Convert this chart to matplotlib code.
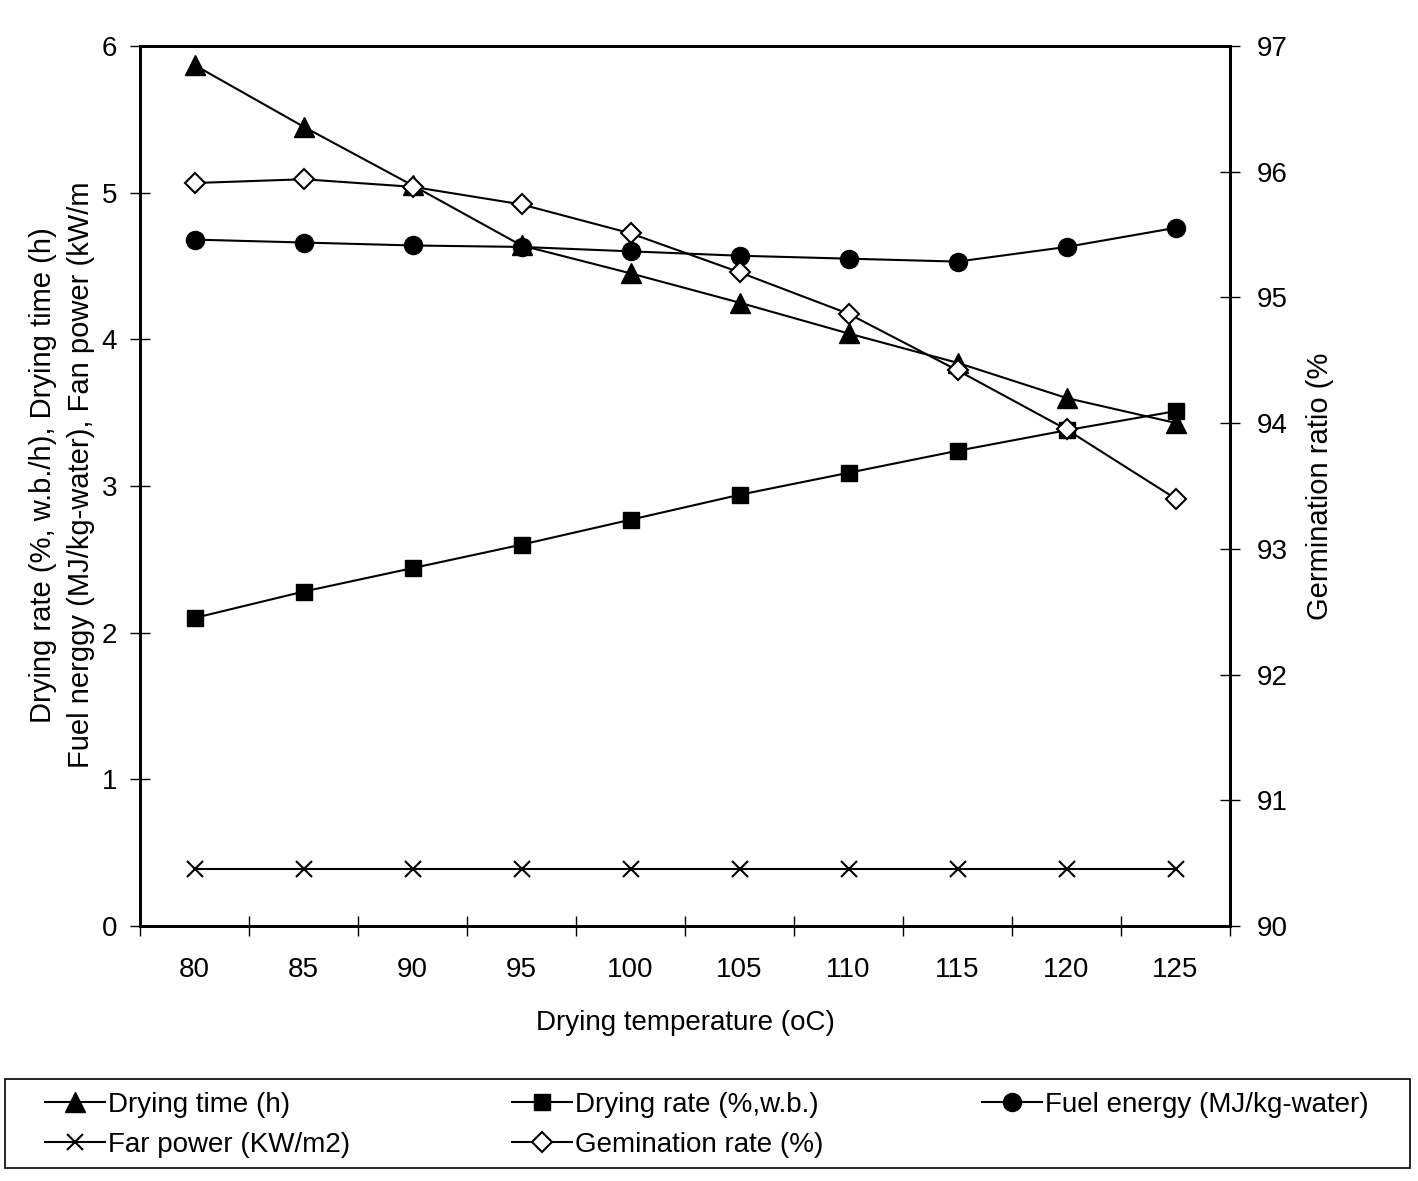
import matplotlib
matplotlib.use("Agg")
import matplotlib.pyplot as plt
from matplotlib.patches import Rectangle

plt.rcParams['font.family'] = ['Liberation Sans', 'DejaVu Sans']
FS = 20
LFS = 21

temps = ["80", "85", "90", "95", "100", "105", "110", "115", "120", "125"]
drying_time = [5.87, 5.45, 5.05, 4.64, 4.45, 4.25, 4.04, 3.84, 3.60, 3.43]
drying_rate = [2.10, 2.28, 2.44, 2.60, 2.77, 2.94, 3.09, 3.24, 3.38, 3.51]
fuel_energy = [4.68, 4.66, 4.64, 4.63, 4.60, 4.57, 4.55, 4.53, 4.63, 4.76]
fan_power = [0.39, 0.39, 0.39, 0.39, 0.39, 0.39, 0.39, 0.39, 0.39, 0.39]
germination = [95.91, 95.94, 95.88, 95.74, 95.51, 95.20, 94.87, 94.42, 93.95, 93.40]

fig = plt.figure(figsize=(14.18, 11.81), dpi=100)
ax = fig.add_axes([140/1418, 1 - 926/1181, 1090/1418, 880/1181])
ax2 = ax.twinx()

x = list(range(len(temps)))
lw = 1.5
h1, = ax.plot(x, drying_time, color='black', lw=lw, marker='^', ms=14, label='Drying time (h)')
h2, = ax.plot(x, drying_rate, color='black', lw=lw, marker='s', ms=11, label='Drying rate (%,w.b.)')
h3, = ax.plot(x, fuel_energy, color='black', lw=lw, marker='o', ms=13, label='Fuel energy (MJ/kg-water)')
h4, = ax.plot(x, fan_power, color='black', lw=lw, marker='x', ms=11, mew=1.5, label='Far power (KW/m2)')
h5, = ax2.plot(x, germination, color='black', lw=lw, marker='D', ms=10, mfc='white', mew=1.5,
               label='Gemination rate (%)')

ax.set_xlim(-0.5, len(temps) - 0.5)
ax.set_ylim(0, 6)
ax2.set_ylim(90, 97)
ax.set_yticks(range(0, 7))
ax2.set_yticks(range(90, 98))
ax.set_xticks(x)
ax.set_xticklabels(temps)
ax.set_xticks([i - 0.5 for i in range(len(temps) + 1)], minor=True)
ax.tick_params(axis='x', which='major', length=0, pad=22, labelsize=FS)
ax.tick_params(axis='x', which='minor', length=14, width=1, direction='inout')
ax.tick_params(axis='y', length=14, width=1, direction='inout', pad=9.5, labelsize=FS)
ax2.tick_params(axis='y', length=14, width=1, direction='inout', pad=12.5, labelsize=FS)
for a in (ax, ax2):
    for s in a.spines.values():
        s.set_linewidth(2)
        s.set_color('black')

ax.set_xlabel('Drying temperature (oC)', fontsize=FS, labelpad=20)
fig.text(62/1418, 1 - 475/1181,
         'Drying rate (%, w.b./h), Drying time (h)\nFuel nerggy (MJ/kg-water), Fan power (kW/m',
         rotation=90, ha='center', va='center', multialignment='center', fontsize=LFS,
         linespacing=1.42)
ax2.set_ylabel('Germination ratio (%', fontsize=LFS, labelpad=13)

# legend box
fig.patches.append(Rectangle((5/1418, 1 - 1168/1181), 1405/1418, 89/1181,
                             transform=fig.transFigure, fill=False, edgecolor='black', lw=1.2))
cols = [([h1, h4], 45), ([h2, h5], 512), ([h3], 982)]
for hs, x0 in cols:
    fig.legend(handles=hs, labels=[h.get_label() for h in hs], loc='upper left',
               bbox_to_anchor=(x0/1418, 1 - 1092/1181), frameon=False, fontsize=FS,
               handlelength=2.16, handletextpad=0.1, borderpad=0, borderaxespad=0,
               labelspacing=0.5)

fig.savefig('out.png', dpi=100)
